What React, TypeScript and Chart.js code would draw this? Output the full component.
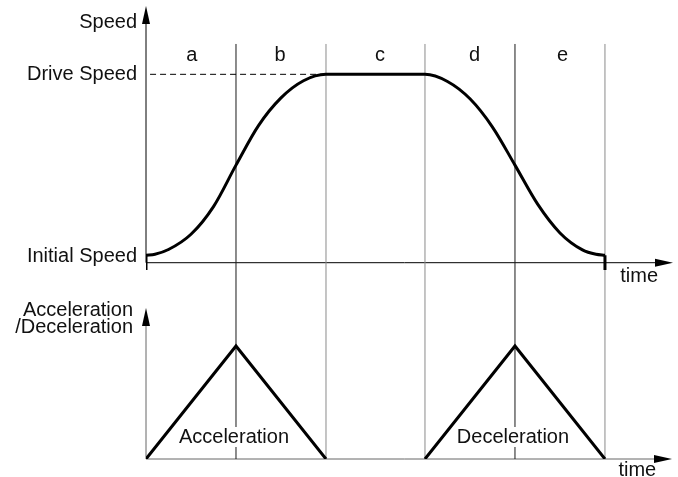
import React, { useEffect, useRef } from "react";
import { Chart, registerables } from "chart.js";

Chart.register(...registerables);

// ---- data ----
const phaseLabels = ["a", "b", "c", "d", "e"];
const phaseLabelX = [0.51, 1.49, 2.6, 3.65, 4.63];
const phaseBounds = [1, 2, 3.1, 4.1, 5.1];
const phaseBoundColors = ["#1a1a1a", "#8a8a8a", "#8a8a8a", "#1a1a1a", "#8a8a8a"];

const driveSpeed = 1.0;
const initialSpeed = 0.04;

const speedTime = [0, 0.1, 0.25, 0.5, 0.75, 1.0, 1.25, 1.5, 1.75, 2.0, 3.1, 3.35, 3.6, 3.85, 4.1, 4.35, 4.6, 4.85, 5.0, 5.1];
const speedValue = [0.04, 0.045, 0.07, 0.151, 0.298, 0.518, 0.728, 0.875, 0.966, 1.0, 1.0, 0.962, 0.87, 0.72, 0.518, 0.312, 0.158, 0.068, 0.045, 0.04];

const accelTime = [0, 1, 2];
const accelValue = [0, 1, 0];
const decelTime = [3.1, 4.1, 5.1];
const decelValue = [0, 1, 0];

// axis ranges (value units)
const X_MAX = 5.856;
const SPEED_MIN = -1.042;
const SPEED_MAX = 1.368;
const ACC_MIN = 0;
const ACC_MAX = 4.018;
const GUIDE_TOP_ACC = 3.673;
const TICK_BELOW = -0.039;
const ACC_ARROW_TOP = 1.336;

const FONT = "20px 'Liberation Sans', Arial, sans-serif";

function arrowUp(ctx: CanvasRenderingContext2D, x: number, y: number) {
  ctx.beginPath();
  ctx.moveTo(x, y);
  ctx.lineTo(x - 4, y + 18);
  ctx.lineTo(x + 4, y + 18);
  ctx.closePath();
  ctx.fill();
}
function arrowRight(ctx: CanvasRenderingContext2D, x: number, y: number) {
  ctx.beginPath();
  ctx.moveTo(x, y);
  ctx.lineTo(x - 18, y - 4);
  ctx.lineTo(x - 18, y + 4);
  ctx.closePath();
  ctx.fill();
}

const diagramPlugin = {
  id: "diagram",
  beforeDatasetsDraw(chart: any) {
    const ctx = chart.ctx as CanvasRenderingContext2D;
    const xs = chart.scales.x;
    const ys = chart.scales.ySpeed;
    const ya = chart.scales.yAcc;
    const x0 = xs.getPixelForValue(0);
    const xEnd = xs.getPixelForValue(X_MAX);
    ctx.save();
    // top axes
    ctx.strokeStyle = "#000";
    ctx.fillStyle = "#000";
    ctx.lineWidth = 1;
    const ySp0 = ys.getPixelForValue(0);
    ctx.beginPath();
    ctx.moveTo(x0, ySp0);
    ctx.lineTo(xEnd - 10, ySp0);
    ctx.moveTo(x0, ySp0);
    ctx.lineTo(x0, ys.getPixelForValue(SPEED_MAX) + 10);
    ctx.stroke();
    arrowUp(ctx, x0, ys.getPixelForValue(SPEED_MAX) + 1);
    arrowRight(ctx, xEnd, ySp0);
    // bottom axes
    ctx.strokeStyle = "#666";
    const yA0 = ya.getPixelForValue(0);
    ctx.beginPath();
    ctx.moveTo(x0, yA0);
    ctx.lineTo(xEnd - 10, yA0);
    ctx.moveTo(x0, yA0);
    ctx.lineTo(x0, ya.getPixelForValue(ACC_ARROW_TOP) + 10);
    ctx.stroke();
    ctx.fillStyle = "#000";
    arrowUp(ctx, x0, ya.getPixelForValue(ACC_ARROW_TOP));
    arrowRight(ctx, xEnd - 1, yA0);
    ctx.restore();
  },
  afterDatasetsDraw(chart: any) {
    const ctx = chart.ctx as CanvasRenderingContext2D;
    const xs = chart.scales.x;
    const ys = chart.scales.ySpeed;
    const ya = chart.scales.yAcc;
    const x0 = xs.getPixelForValue(0);
    ctx.save();
    ctx.font = FONT;
    ctx.fillStyle = "#111";
    ctx.textBaseline = "alphabetic";
    // left labels
    ctx.textAlign = "right";
    const lx = x0 - 9;
    ctx.fillText("Speed", lx, ys.getPixelForValue(SPEED_MAX) + 23);
    ctx.fillText("Drive Speed", lx, ys.getPixelForValue(driveSpeed) + 6);
    ctx.fillText("Initial Speed", lx, ys.getPixelForValue(initialSpeed) + 7);
    const yAT = ya.getPixelForValue(ACC_ARROW_TOP);
    ctx.fillText("Acceleration", lx - 4, yAT + 8);
    ctx.fillText("/Deceleration", lx - 4, yAT + 25);
    // phase labels
    ctx.textAlign = "center";
    const yPh = ys.getPixelForValue(1.07);
    phaseLabels.forEach((l, i) => ctx.fillText(l, xs.getPixelForValue(phaseLabelX[i]), yPh));
    // time labels
    ctx.textAlign = "left";
    ctx.fillText("time", xs.getPixelForValue(5.27), ys.getPixelForValue(0) + 19);
    ctx.fillText("time", xs.getPixelForValue(5.25), ya.getPixelForValue(0) + 17);
    // triangle labels with white background
    ctx.textAlign = "center";
    const yTri = ya.getPixelForValue(0) - 16;
    [
      { t: "Acceleration", x: 1 },
      { t: "Deceleration", x: 4.1 },
    ].forEach((o) => {
      const px = xs.getPixelForValue(o.x) - 2;
      const w = ctx.measureText(o.t).width;
      ctx.fillStyle = "#fff";
      ctx.fillRect(px - w / 2 - 2, yTri - 16, w + 4, 20);
      ctx.fillStyle = "#111";
      ctx.fillText(o.t, px, yTri);
    });
    ctx.restore();
  },
};

export default function App() {
  const ref = useRef<HTMLCanvasElement | null>(null);
  useEffect(() => {
    if (!ref.current) return;
    const guideSets = phaseBounds.map((b, i) => ({
      data: [
        { x: b, y: 0 },
        { x: b, y: GUIDE_TOP_ACC },
      ],
      yAxisID: "yAcc",
      borderColor: phaseBoundColors[i],
      borderWidth: 1,
      showLine: true,
      pointRadius: 0,
      order: 10,
    }));
    const chart = new Chart(ref.current, {
      type: "scatter",
      data: {
        datasets: [
          ...guideSets,
          {
            data: [
              { x: 0.045, y: driveSpeed },
              { x: 2, y: driveSpeed },
            ],
            yAxisID: "ySpeed",
            borderColor: "#000",
            borderWidth: 1,
            borderDash: [6, 4],
            showLine: true,
            pointRadius: 0,
            order: 9,
          },
          {
            data: speedTime.map((t, i) => ({ x: t, y: speedValue[i] })),
            yAxisID: "ySpeed",
            borderColor: "#000",
            borderWidth: 3,
            showLine: true,
            pointRadius: 0,
            cubicInterpolationMode: "monotone",
            borderJoinStyle: "round",
            order: 1,
          },
          {
            data: [
              { x: speedTime[0], y: TICK_BELOW },
              { x: speedTime[0], y: speedValue[0] },
            ],
            yAxisID: "ySpeed",
            borderColor: "#000",
            borderWidth: 3,
            showLine: true,
            pointRadius: 0,
            order: 1,
          },
          {
            data: [
              { x: speedTime[speedTime.length - 1], y: speedValue[speedValue.length - 1] },
              { x: speedTime[speedTime.length - 1], y: TICK_BELOW },
            ],
            yAxisID: "ySpeed",
            borderColor: "#000",
            borderWidth: 3,
            showLine: true,
            pointRadius: 0,
            order: 1,
          },
          {
            data: accelTime.map((t, i) => ({ x: t, y: accelValue[i] })),
            yAxisID: "yAcc",
            borderColor: "#000",
            borderWidth: 3,
            showLine: true,
            pointRadius: 0,
            order: 1,
          },
          {
            data: decelTime.map((t, i) => ({ x: t, y: decelValue[i] })),
            yAxisID: "yAcc",
            borderColor: "#000",
            borderWidth: 3,
            showLine: true,
            pointRadius: 0,
            order: 1,
          },
        ] as any,
      },
      options: {
        animation: false,
        responsive: false,
        devicePixelRatio: 1,
        layout: { padding: { left: 146, right: 5, top: 5, bottom: 18 } },
        plugins: { legend: { display: false }, tooltip: { enabled: false }, title: { display: false } },
        events: [],
        scales: {
          x: { type: "linear", min: 0, max: X_MAX, display: false },
          ySpeed: { type: "linear", position: "left", min: SPEED_MIN, max: SPEED_MAX, display: false },
          yAcc: { type: "linear", position: "left", min: ACC_MIN, max: ACC_MAX, display: false },
        },
      } as any,
      plugins: [diagramPlugin],
    });
    return () => chart.destroy();
  }, []);
  return (
    <div style={{ position: "fixed", left: 0, top: 0, width: 678, height: 477, background: "#fff" }}>
      <canvas ref={ref} width={678} height={477} style={{ width: 678, height: 477, display: "block" }} />
    </div>
  );
}
